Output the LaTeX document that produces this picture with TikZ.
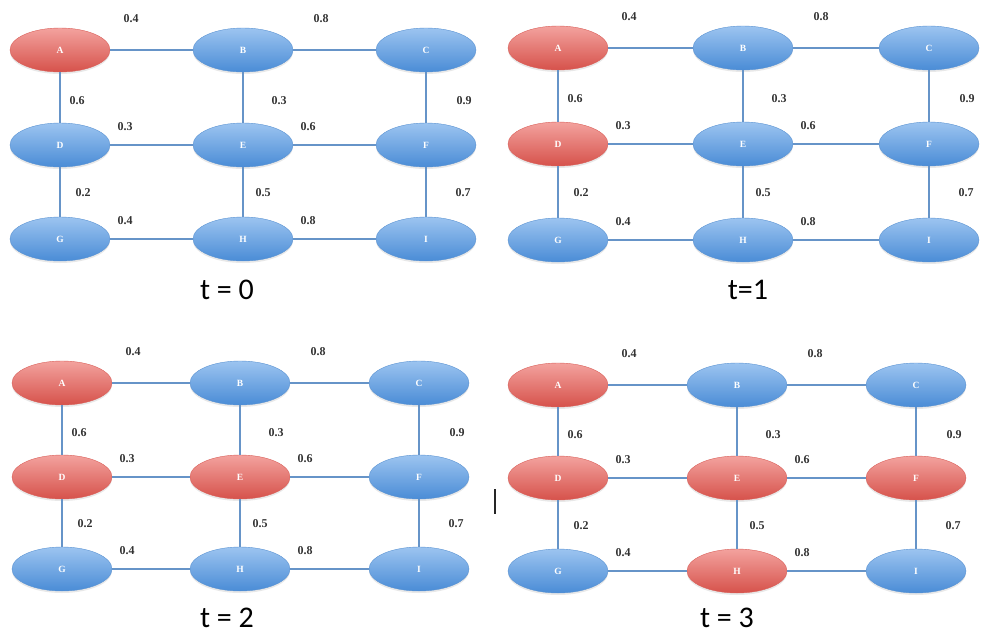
\documentclass[tikz,border=0pt]{standalone}
\usepackage{fontspec}
\setmainfont{Liberation Serif}
\newfontfamily\titlefont{Carlito}
\usetikzlibrary{shapes.geometric,shadows}
\definecolor{edgeblue}{HTML}{6694C8}
\definecolor{btop}{HTML}{9CC4F0}
\definecolor{bbot}{HTML}{4A8CD6}
\definecolor{bline}{HTML}{5B93D2}
\definecolor{rtop}{HTML}{F3A29E}
\definecolor{rbot}{HTML}{D6524B}
\definecolor{rline}{HTML}{D9605A}
\definecolor{wlabel}{HTML}{333333}
\tikzset{
  vnode/.style={ellipse, minimum width=100pt, minimum height=44pt, inner sep=0pt,
    text=white, font=\fontsize{9.5}{10}\selectfont\bfseries,
    drop shadow={opacity=0.18, shadow xshift=0pt, shadow yshift=-2pt}},
  bnode/.style={vnode, top color=btop, bottom color=bbot, draw=bline, line width=0.4pt},
  rnode/.style={vnode, top color=rtop, bottom color=rbot, draw=rline, line width=0.4pt},
  edge/.style={draw=edgeblue, line width=2.6pt},
  wlab/.style={text=wlabel, font=\fontsize{12}{13}\selectfont\bfseries, inner sep=0pt},
  ttl/.style={font=\titlefont\fontsize{30}{32}\selectfont, text=black, inner sep=0pt}
}
% #1 prefix, #2-#4 columns, #5-#7 rows, #8 extra styles (red nodes)
\newcommand\mygraph[8]{%
\begin{scope}[fA/.style=bnode,fB/.style=bnode,fC/.style=bnode,fD/.style=bnode,
  fE/.style=bnode,fF/.style=bnode,fG/.style=bnode,fH/.style=bnode,fI/.style=bnode,#8]
  \node[fA] (#1A) at (#2,#5) {A};
  \node[fB] (#1B) at (#3,#5) {B};
  \node[fC] (#1C) at (#4,#5) {C};
  \node[fD] (#1D) at (#2,#6) {D};
  \node[fE] (#1E) at (#3,#6) {E};
  \node[fF] (#1F) at (#4,#6) {F};
  \node[fG] (#1G) at (#2,#7) {G};
  \node[fH] (#1H) at (#3,#7) {H};
  \node[fI] (#1I) at (#4,#7) {I};
  \draw[edge] (#1A) -- (#1B);
  \draw[edge] (#1B) -- (#1C);
  \draw[edge] (#1D) -- (#1E);
  \draw[edge] (#1E) -- (#1F);
  \draw[edge] (#1G) -- (#1H);
  \draw[edge] (#1H) -- (#1I);
  \draw[edge] (#1A) -- (#1D);
  \draw[edge] (#1D) -- (#1G);
  \draw[edge] (#1B) -- (#1E);
  \draw[edge] (#1E) -- (#1H);
  \draw[edge] (#1C) -- (#1F);
  \draw[edge] (#1F) -- (#1I);
  \node[wlab] (#1lab) at ({#2+71},{#5-31}) {0.4};
  \node[wlab] (#1lbc) at ({#3+78},{#5-31}) {0.8};
  \node[wlab] (#1lad) at ({#2+17},{(#5+#6)/2+3}) {0.6};
  \node[wlab] (#1lbe) at ({#3+36},{(#5+#6)/2+3}) {0.3};
  \node[wlab] (#1lcf) at ({#4+38},{(#5+#6)/2+3}) {0.9};
  \node[wlab] (#1lde) at ({#2+65},{#6-18}) {0.3};
  \node[wlab] (#1lef) at ({#3+65},{#6-18}) {0.6};
  \node[wlab] (#1ldg) at ({#2+23},{(#6+#7)/2+1}) {0.2};
  \node[wlab] (#1leh) at ({#3+20},{(#6+#7)/2+1}) {0.5};
  \node[wlab] (#1lfi) at ({#4+37},{(#6+#7)/2+1}) {0.7};
  \node[wlab] (#1lgh) at ({#2+65},{#7-18}) {0.4};
  \node[wlab] (#1lhi) at ({#3+65},{#7-18}) {0.8};
\end{scope}}
\begin{document}
\begin{tikzpicture}[x=1pt,y=-1pt]
  \useasboundingbox (0,0) rectangle (982,637);
  \mygraph{p}{60}{243}{426}{50}{145}{239}{fA/.style=rnode}
  \node[ttl] (t0) at (227,290) {t = 0};
  \mygraph{q}{558}{743}{929}{48}{144}{240}{fA/.style=rnode,fD/.style=rnode}
  \node[ttl] (t1) at (748,290) {t=1};
  \mygraph{r}{62}{240}{419}{383}{477}{569}{fA/.style=rnode,fD/.style=rnode,fE/.style=rnode}
  \node[ttl] (t2) at (227,618) {t = 2};
  \mygraph{s}{558}{737}{916}{385}{478}{571}{fA/.style=rnode,fD/.style=rnode,fE/.style=rnode,fF/.style=rnode,fH/.style=rnode}
  \node[ttl] (t3) at (727,618) {t = 3};
  \coordinate (bartop) at (495,489);
  \coordinate (barbot) at (495,514);
  \draw[line width=2pt, black!85] (bartop) -- (barbot);
\end{tikzpicture}
\end{document}
